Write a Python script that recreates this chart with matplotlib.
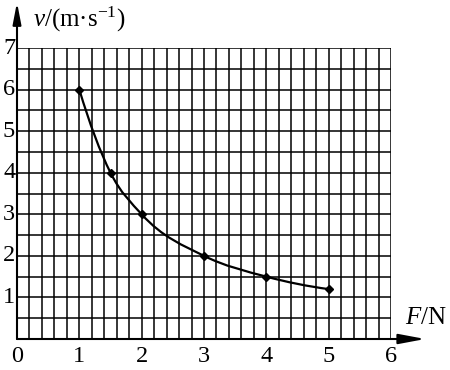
import numpy as np
import matplotlib
matplotlib.use("Agg")
import matplotlib.pyplot as plt
from matplotlib.path import Path
from matplotlib.patches import PathPatch

# Data
F_values = [1, 1.5, 2, 3, 4, 5]
v_values = [6, 4, 3, 2, 1.5, 1.2]
x_ticks = [1, 2, 3, 4, 5, 6]
y_ticks = [1, 2, 3, 4, 5, 6, 7]

plt.rcParams['font.family'] = ['Liberation Serif', 'DejaVu Serif']
plt.rcParams['mathtext.fontset'] = 'custom'
plt.rcParams['mathtext.rm'] = 'Liberation Serif'
plt.rcParams['mathtext.it'] = 'Liberation Serif:italic'

fig = plt.figure(figsize=(4.5, 3.7), dpi=100)
ax = fig.add_axes([17/450, 31/370, 374/450, 291/370])
ax.set_xlim(0, 6)
ax.set_ylim(0, 7)
for s in ax.spines.values():
    s.set_visible(False)
ax.set_xticks([])
ax.set_yticks([])

# grid
for gx in np.arange(0.2, 6.01, 0.2):
    ax.axvline(gx, color='black', lw=1.1, zorder=1)
for gy in np.arange(0.5, 7.01, 0.5):
    ax.axhline(gy, color='black', lw=1.1, zorder=1)

# axes with arrows
ax.annotate('', xy=(6.55, 0), xytext=(0, 0), xycoords='data',
            arrowprops=dict(arrowstyle='-|>,head_length=1.6,head_width=0.3',
                            color='black', lw=1.5, shrinkA=0, shrinkB=0),
            annotation_clip=False, zorder=3)
ax.annotate('', xy=(0, 8.1), xytext=(0, 0), xycoords='data',
            arrowprops=dict(arrowstyle='-|>,head_length=1.3,head_width=0.25',
                            color='black', lw=1.5, shrinkA=0, shrinkB=0),
            annotation_clip=False, zorder=3)

# smooth curve through the points: cubic Hermite in x, as Bezier segments
x = np.asarray(F_values, float)
y = np.asarray(v_values, float)
n = len(x)
d = np.zeros(n)
for i in range(1, n - 1):
    h0 = x[i] - x[i - 1]
    h1 = x[i + 1] - x[i]
    d[i] = (h0 / (h1 * (h0 + h1))) * (y[i + 1] - y[i]) + \
           (h1 / (h0 * (h0 + h1))) * (y[i] - y[i - 1])
h0, h1 = x[1] - x[0], x[2] - x[1]
d[0] = (-(2 * h0 + h1) / (h0 * (h0 + h1)) * y[0] + (h0 + h1) / (h0 * h1) * y[1]
        - h0 / (h1 * (h0 + h1)) * y[2])
h0, h1 = x[-2] - x[-3], x[-1] - x[-2]
d[-1] = (h1 / (h0 * (h0 + h1)) * y[-3] - (h0 + h1) / (h0 * h1) * y[-2]
         + (2 * h1 + h0) / (h1 * (h0 + h1)) * y[-1])
verts = [(x[0], y[0])]
codes = [Path.MOVETO]
for i in range(n - 1):
    h = x[i + 1] - x[i]
    verts += [(x[i] + h / 3, y[i] + d[i] * h / 3),
              (x[i + 1] - h / 3, y[i + 1] - d[i + 1] * h / 3),
              (x[i + 1], y[i + 1])]
    codes += [Path.CURVE4] * 3
ax.add_patch(PathPatch(Path(verts, codes), fill=False, lw=1.6,
                       edgecolor='black', zorder=4))
ax.plot(F_values, v_values, linestyle='none', marker='D', markersize=4,
        color='black', zorder=5)

# tick labels
fs = 17.5
ax.text(0, -0.43, '0', ha='center', va='center', fontsize=fs, clip_on=False)
for t in x_ticks:
    ax.text(t, -0.43, str(t), ha='center', va='center', fontsize=fs, clip_on=False)
for t in y_ticks:
    ax.text(-0.03, t, str(t), ha='right', va='center', fontsize=fs, clip_on=False)

ax.text(0.25, 7.68, r'$\mathit{v}$/(m·s$^{\mathregular{-1}}$)', ha='left', va='center',
        fontsize=18, clip_on=False)
ax.text(6.22, 0.5, r'$\mathit{F}$/N', ha='left', va='center', fontsize=18,
        clip_on=False)

fig.savefig('out.png', dpi=100)
